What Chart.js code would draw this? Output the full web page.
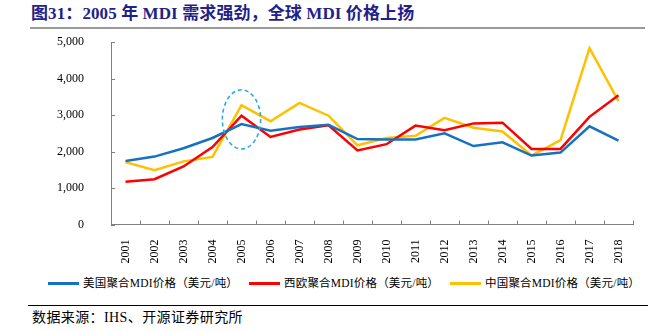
<!DOCTYPE html>
<html>
<head>
<meta charset="utf-8">
<script src="https://cdn.jsdelivr.net/npm/chart.js@4/dist/chart.umd.min.js"></script>
<style>
  html, body { margin: 0; padding: 0; background: #fff; }
  #wrap { position: relative; width: 652px; height: 332px; overflow: hidden; background: #fff; }
  #title {
    position: absolute; left: 31px; top: 4px; white-space: nowrap;
    font-family: "Liberation Serif", "Noto Sans CJK SC", serif; font-weight: bold;
    font-size: 17px; line-height: 20px; color: #1f2289; letter-spacing: 0.1px;
  }
  #titleRule { position: absolute; left: 30px; top: 27px; width: 615px; height: 2px; background: #9a9a9a; }
  #chartBox { position: absolute; left: 0; top: 0; width: 652px; height: 266px; }
  .leg { position: absolute; top: 276px; height: 14px; white-space: nowrap;
    font-family: "Liberation Serif", "Noto Sans CJK SC", serif; font-size: 11.5px; line-height: 14px; color: #000; letter-spacing: 0.2px; }
  .leg i { position: absolute; left: 0; top: 6px; width: 31px; height: 3px; }
  .leg span { position: absolute; left: 35px; top: 0; }
  #srcRule { position: absolute; left: 28px; top: 305px; width: 620px; height: 1px; background: #000; }
  #source { position: absolute; left: 32px; top: 309px; white-space: nowrap;
    font-family: "Liberation Serif", "Noto Sans CJK SC", serif; font-size: 14px; line-height: 18px; color: #000; letter-spacing: 0.4px; }
</style>
</head>
<body>
<div id="wrap">
  <div id="title">图31：2005 年 MDI 需求强劲，全球 MDI 价格上扬</div>
  <div id="titleRule"></div>
  <div id="chartBox"><canvas id="c"></canvas></div>
  <div id="legend"></div>
  <div id="srcRule"></div>
  <div id="source">数据来源：IHS、开源证券研究所</div>
</div>
<script>
// Polymerised MDI prices by region, USD per tonne
const years = ['2001','2002','2003','2004','2005','2006','2007','2008','2009','2010',
               '2011','2012','2013','2014','2015','2016','2017','2018'];
const usPrice     = [1740,1860,2090,2370,2750,2570,2670,2730,2340,2330,2330,2500,2150,2250,1890,1970,2690,2300];
const europePrice = [1170,1240,1590,2120,2980,2400,2600,2720,2030,2200,2710,2580,2770,2790,2070,2070,2950,3540];
const chinaPrice  = [1710,1490,1730,1850,3270,2830,3330,2980,2170,2370,2430,2920,2650,2550,1890,2310,4830,3380];
const seriesNames = ['美国聚合MDI价格（美元/吨）','西欧聚合MDI价格（美元/吨）','中国聚合MDI价格（美元/吨）'];
const yTicks = [0,1000,2000,3000,4000,5000];

const colors = ['#1672c0', '#ff0000', '#ffc000'];
const legendX = [48, 249, 450];

// legend row
const legend = document.getElementById('legend');
seriesNames.forEach((name, i) => {
  const d = document.createElement('div');
  d.className = 'leg';
  d.style.left = legendX[i] + 'px';
  d.innerHTML = '<i style="background:' + colors[i] + '"></i><span>' + name + '</span>';
  legend.appendChild(d);
});

// inward tick marks on both axes plus the dashed highlight ring around 2005
const axisDecor = {
  id: 'axisDecor',
  afterDatasetsDraw(chart, args, opts) {
    const { ctx, chartArea: a, scales: { x, y } } = chart;
    ctx.save();
    ctx.strokeStyle = '#7f7f7f';
    ctx.lineWidth = 1;
    ctx.beginPath();
    yTicks.forEach(v => {
      const py = Math.round(y.getPixelForValue(v)) + 0.5;
      ctx.moveTo(a.left, py); ctx.lineTo(a.left + 4, py);
    });
    const step = (a.right - a.left) / years.length;
    for (let i = 0; i <= years.length; i++) {
      const px = Math.round(a.left + i * step) + 0.5;
      ctx.moveTo(px, a.bottom); ctx.lineTo(px, a.bottom - 4);
    }
    ctx.stroke();

    // highlight ring
    const cx = x.getPixelForValue(opts.ringIndex);
    const cy = y.getPixelForValue(opts.ringValue);
    const ry = Math.abs(y.getPixelForValue(opts.ringValue + opts.ringHalfSpan) - cy);
    const rx = step * opts.ringWidthFactor;
    ctx.setLineDash([4, 3]);
    ctx.strokeStyle = '#29abe2';
    ctx.lineWidth = 1.6;
    ctx.beginPath();
    ctx.ellipse(cx, cy, rx, ry, 0, 0, Math.PI * 2);
    ctx.stroke();
    ctx.restore();
  }
};

const tickFont = { family: '"Liberation Serif", serif', size: 12 };

new Chart(document.getElementById('c'), {
  type: 'line',
  data: {
    labels: years,
    datasets: [usPrice, europePrice, chinaPrice].map((vals, i) => ({
      label: seriesNames[i],
      data: vals,
      borderColor: colors[i],
      backgroundColor: colors[i],
      borderWidth: 2.5,
      pointRadius: 0,
      tension: 0,
      fill: false
    }))
  },
  options: {
    responsive: true,
    maintainAspectRatio: false,
    animation: false,
    layout: { padding: { top: 42, right: 19, left: 0, bottom: 0 } },
    plugins: {
      legend: { display: false },
      tooltip: { enabled: false },
      axisDecor: { ringIndex: 4, ringValue: 2880, ringHalfSpan: 810, ringWidthFactor: 0.66 }
    },
    scales: {
      x: {
        type: 'category',
        offset: true,
        grid: { display: false },
        border: { display: true, color: '#7f7f7f', width: 1 },
        ticks: { font: tickFont, color: '#000', minRotation: 90, maxRotation: 90, padding: 7, autoSkip: false },
        afterFit(scale) { scale.height = 41.5; }
      },
      y: {
        min: 0, max: 5000,
        grid: { display: false },
        border: { display: true, color: '#7f7f7f', width: 1 },
        afterBuildTicks(scale) { scale.ticks = yTicks.map(v => ({ value: v })); },
        ticks: {
          font: tickFont, color: '#000', padding: 19,
          callback: v => v.toLocaleString('en-US')
        },
        afterFit(scale) { scale.width = 111; }
      }
    }
  },
  plugins: [axisDecor]
});
</script>
</body>
</html>
